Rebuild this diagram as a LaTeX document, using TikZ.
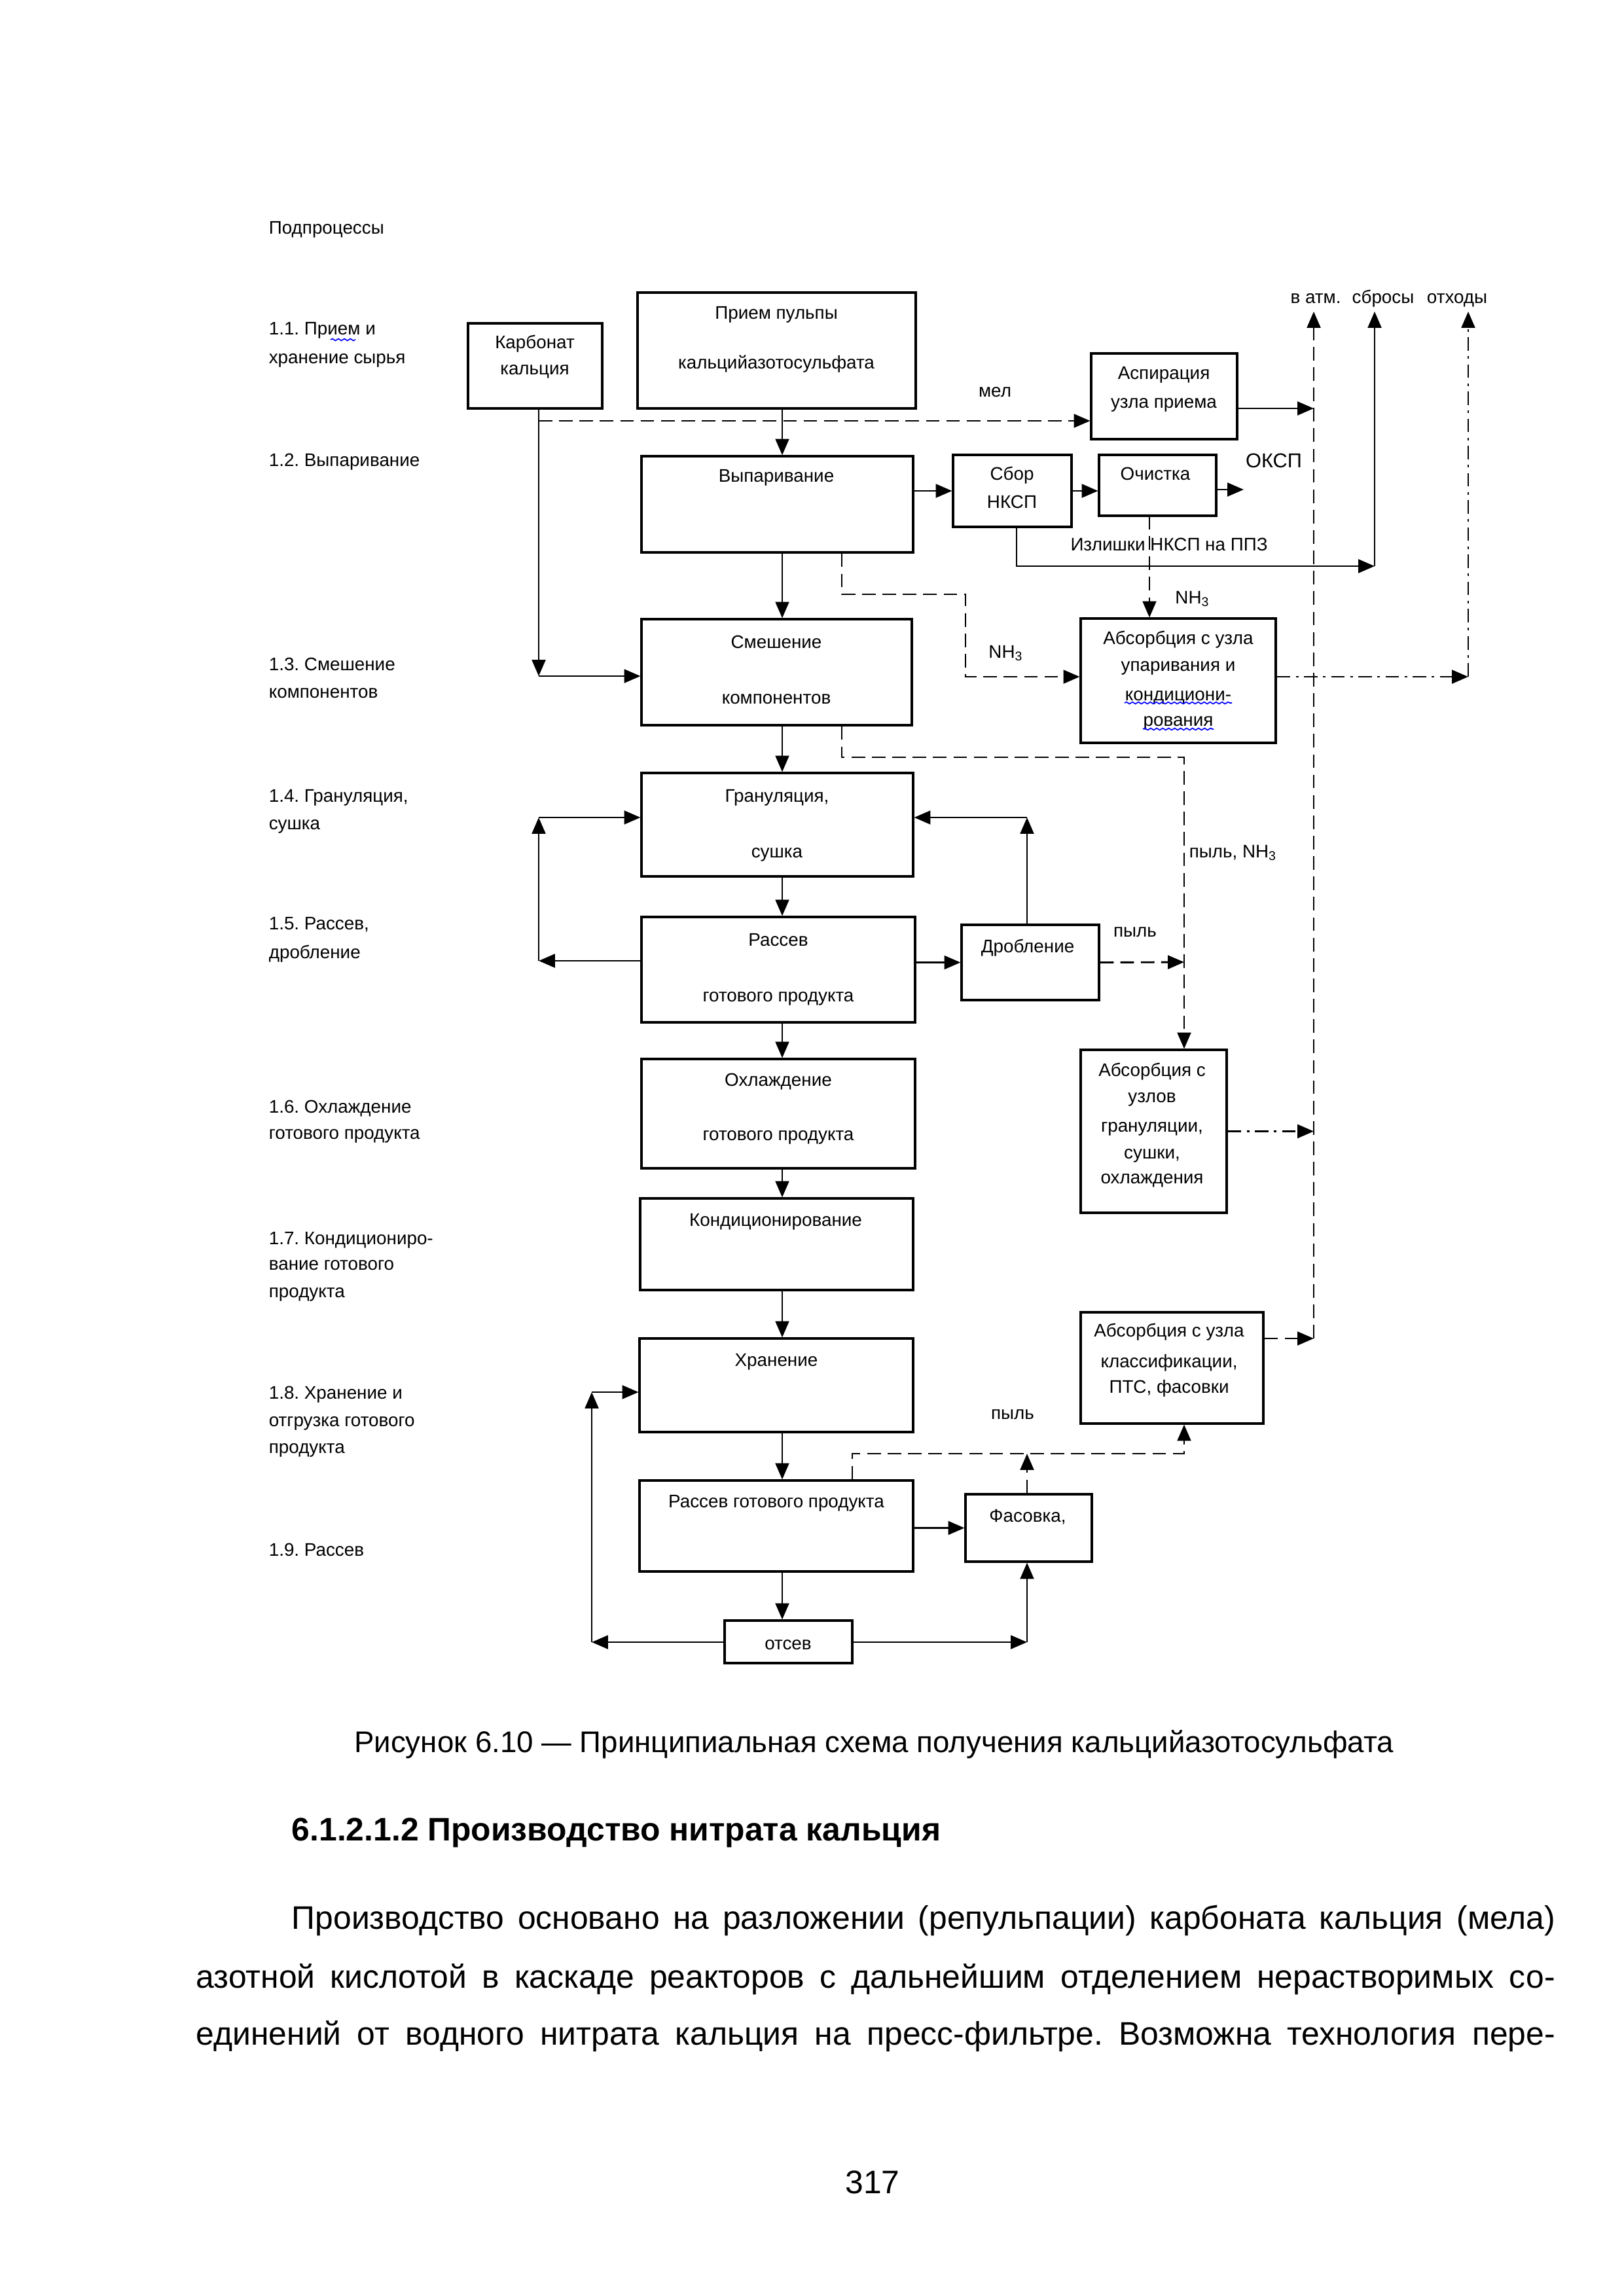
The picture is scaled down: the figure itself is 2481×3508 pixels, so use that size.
\documentclass[tikz,border=0pt]{standalone}
\usepackage{fontspec}
\setmainfont{Liberation Sans}
\usetikzlibrary{arrows.meta,fit,decorations.pathmorphing}
\frenchspacing

\tikzset{
	box/.style={draw, line width=0.75pt, inner sep=0pt},
	txt/.style={inner sep=0pt, anchor=base, yshift=-0.72mm, font=\fontsize{6.7}{8}\selectfont},
	lbl/.style={txt, anchor=base west},
	pfeil/.style={line width=0.7pt, -{Triangle[length=6pt,width=5pt]}},
	strich/.style={pfeil, dash pattern=on 5pt off 2.5pt},
	strichpunkt/.style={pfeil, dash pattern=on 5pt off 2pt on 1pt off 2pt},
	welle/.style={blue, line width=0.4pt, decorate, decoration={snake, amplitude=0.35pt, segment length=2.2pt}},
	seite/.style={inner sep=0pt, anchor=base west, yshift=-0.3mm, font=\fontsize{12}{14}\selectfont}
}

\begin{document}
\begin{tikzpicture}[x=0.084667mm, y=-0.084667mm]
	\useasboundingbox (0,0) rectangle (2481,3508);

	% Teilprozesse links
	\node[lbl] (tp) at (410,349) {Подпроцессы};
	\node[lbl] (tp11) at (410,503) {1.1. Прием и};
	\node[lbl] (tp11b) at (410,547) {хранение сырья};
	\draw[welle] (505,519) -- (543,519);
	\node[lbl] (tp12) at (410,704) {1.2. Выпаривание};
	\node[lbl] (tp13) at (410,1016) {1.3. Смешение};
	\node[lbl] (tp13b) at (410,1058) {компонентов};
	\node[lbl] (tp14) at (410,1217) {1.4. Грануляция,};
	\node[lbl] (tp14b) at (410,1259) {сушка};
	\node[lbl] (tp15) at (410,1412) {1.5. Рассев,};
	\node[lbl] (tp15b) at (410,1456) {дробление};
	\node[lbl] (tp16) at (410,1692) {1.6. Охлаждение};
	\node[lbl] (tp16b) at (410,1732) {готового продукта};
	\node[lbl] (tp17) at (410,1893) {1.7. Кондициониро-};
	\node[lbl] (tp17b) at (410,1932) {вание готового};
	\node[lbl] (tp17c) at (410,1974) {продукта};
	\node[lbl] (tp18) at (410,2129) {1.8. Хранение и};
	\node[lbl] (tp18b) at (410,2171) {отгрузка готового};
	\node[lbl] (tp18c) at (410,2212) {продукта};
	\node[lbl] (tp19) at (410,2369) {1.9. Рассев};

	% Kaesten
	\node[box, fit={(715,494) (920,624)}] (karb) {};
	\node[box, fit={(974,447) (1399,624)}] (priem) {};
	\node[box, fit={(1667,540) (1890,671)}] (aspir) {};
	\node[box, fit={(980,697) (1395,844)}] (vypar) {};
	\node[box, fit={(1456,695) (1637,805)}] (sbor) {};
	\node[box, fit={(1679,695) (1858,788)}] (ochist) {};
	\node[box, fit={(980,946) (1393,1108)}] (smesh) {};
	\node[box, fit={(1651,945) (1949,1135)}] (absup) {};
	\node[box, fit={(980,1181) (1395,1339)}] (gran) {};
	\node[box, fit={(980,1401) (1398,1562)}] (rassev) {};
	\node[box, fit={(1469,1413) (1679,1528)}] (drob) {};
	\node[box, fit={(1651,1604) (1874,1853)}] (absgr) {};
	\node[box, fit={(980,1618) (1398,1785)}] (ohl) {};
	\node[box, fit={(978,1831) (1395,1971)}] (kond) {};
	\node[box, fit={(1651,2005) (1930,2175)}] (abskl) {};
	\node[box, fit={(977,2045) (1395,2188)}] (hran) {};
	\node[box, fit={(977,2262) (1395,2401)}] (rassgp) {};
	\node[box, fit={(1475,2283) (1668,2386)}] (fas) {};
	\node[box, fit={(1107,2476) (1302,2541)}] (otsev) {};

	% Beschriftung der Kaesten
	\node[txt] at (817,524) {Карбонат};
	\node[txt] at (817,564) {кальция};
	\node[txt] at (1186,479) {Прием пульпы};
	\node[txt] at (1186,555) {кальцийазотосульфата};
	\node[txt] at (1778,571) {Аспирация};
	\node[txt] at (1778,615) {узла приема};
	\node[txt] at (1186,728) {Выпаривание};
	\node[txt] at (1546,725) {Сбор};
	\node[txt] at (1546,768) {НКСП};
	\node[txt] at (1765,725) {Очистка};
	\node[txt] at (1186,982) {Смешение};
	\node[txt] at (1186,1067) {компонентов};
	\node[txt] at (1800,976) {Абсорбция с узла};
	\node[txt] at (1800,1017) {упаривания и};
	\node[txt] at (1800,1062) {кондициони-};
	\node[txt] at (1800,1101) {рования};
	\draw[welle] (1718,1074) -- (1882,1074);
	\draw[welle] (1746,1114) -- (1854,1114);
	\node[txt] at (1187,1217) {Грануляция,};
	\node[txt] at (1187,1302) {сушка};
	\node[txt] at (1189,1437) {Рассев};
	\node[txt] at (1189,1522) {готового продукта};
	\node[txt] at (1570,1447) {Дробление};
	\node[txt] at (1760,1636) {Абсорбция с};
	\node[txt] at (1760,1676) {узлов};
	\node[txt] at (1760,1721) {грануляции,};
	\node[txt] at (1760,1762) {сушки,};
	\node[txt] at (1760,1800) {охлаждения};
	\node[txt] at (1189,1651) {Охлаждение};
	\node[txt] at (1189,1734) {готового продукта};
	\node[txt] at (1185,1865) {Кондиционирование};
	\node[txt] at (1786,2034) {Абсорбция с узла};
	\node[txt] at (1786,2081) {классификации,};
	\node[txt] at (1786,2120) {ПТС, фасовки};
	\node[txt] at (1186,2079) {Хранение};
	\node[txt] at (1186,2295) {Рассев готового продукта};
	\node[txt] at (1570,2317) {Фасовка,};
	\node[txt] at (1204,2512) {отсев};

	% Hilfspunkte
	\coordinate (mid) at (1195,0);
	\coordinate (k1) at (823,1033);
	\coordinate (mel) at (823,643);
	\coordinate (asp) at (2007,624);
	\coordinate (atm) at (2007,476);
	\coordinate (atmbot) at (2007,2045);
	\coordinate (sbr) at (2100,476);
	\coordinate (sbrbot) at (2100,865);
	\coordinate (oth) at (2243,476);
	\coordinate (othbot) at (2243,1034);
	\coordinate (sb) at (1553,865);
	\coordinate (okcp) at (1900,748);
	\coordinate (oc) at (1756,788);
	\coordinate (nh1) at (1286,908);
	\coordinate (nh2) at (1475,908);
	\coordinate (nh3) at (1475,1034);
	\coordinate (py1) at (1286,1157);
	\coordinate (py2) at (1809,1157);
	\coordinate (r1) at (823,1468);
	\coordinate (r2) at (823,1249);
	\coordinate (d1) at (1569,1249);
	\coordinate (dp) at (1809,1470);
	\coordinate (h1) at (904,2509);
	\coordinate (h2) at (904,2127);
	\coordinate (f1) at (1569,2509);
	\coordinate (p1) at (1302,2221);
	\coordinate (p2) at (1809,2221);

	% Hauptstrang
	\draw[pfeil] (priem.south -| mid) -- (vypar.north -| mid);
	\draw[pfeil] (vypar.south -| mid) -- (smesh.north -| mid);
	\draw[pfeil] (smesh.south -| mid) -- (gran.north -| mid);
	\draw[pfeil] (gran.south -| mid) -- (rassev.north -| mid);
	\draw[pfeil] (rassev.south -| mid) -- (ohl.north -| mid);
	\draw[pfeil] (ohl.south -| mid) -- (kond.north -| mid);
	\draw[pfeil] (kond.south -| mid) -- (hran.north -| mid);
	\draw[pfeil] (hran.south -| mid) -- (rassgp.north -| mid);
	\draw[pfeil] (rassgp.south -| mid) -- (otsev.north -| mid);

	% Carbonat
	\draw[pfeil] (karb.south -| k1) -- (k1);
	\draw[pfeil] (k1) -- (k1 -| smesh.west);
	\draw[strich] (mel) -- (mel -| aspir.west);
	\node[txt] at (1520,598) {мел};
	\draw[pfeil] (aspir.east |- asp) -- (asp);

	% Abluft, Abwasser, Abfall
	\draw[pfeil, dash pattern=on 5pt off 2.5pt] (atmbot) -- (atm);
	\draw[pfeil] (sbrbot) -- (sbr);
	\draw[strichpunkt] (othbot) -- (oth);
	\node[txt] at (2010,455) {в атм.};
	\node[txt] at (2113,455) {сбросы};
	\node[txt] at (2226,455) {отходы};

	% Eindampfung
	\draw[pfeil] (vypar.east |- sbor.west) -- (sbor.west);
	\draw[pfeil] (sbor.east) -- (sbor.east -| ochist.west);
	\draw[pfeil] (ochist.east |- okcp) -- (okcp);
	\node[txt, font=\fontsize{7.4}{8}\selectfont] at (1946,706) {ОКСП};
	\draw[pfeil] (sbor.south -| sb) -- (sb) -- (sbrbot);
	\node[txt] at (1786,833) {Излишки НКСП на ППЗ};
	\draw[strich] (oc) -- (oc |- absup.north);
	\node[txt] at (1822,914) {NH\textsubscript{3}};
	\draw[strich] (vypar.south -| nh1) -- (nh1) -- (nh2) -- (nh3) -- (nh3 -| absup.west);
	\node[txt] at (1537,997) {NH\textsubscript{3}};
	\draw[strichpunkt] (absup.east |- othbot) -- (othbot);

	% Granulierung
	\draw[strich] (smesh.south -| py1) -- (py1) -- (py2) -- (absgr.north -| py2);
	\node[lbl] at (1816,1302) {пыль, NH\textsubscript{3}};
	\draw[pfeil] (rassev.west |- r1) -- (r1);
	\draw[pfeil] (r1) -- (r2);
	\draw[pfeil] (r2) -- (r2 -| gran.west);
	\draw[pfeil] (rassev.east |- drob.west) -- (drob.west);
	\draw[pfeil] (drob.north -| d1) -- (d1);
	\draw[pfeil] (d1) -- (d1 -| gran.east);
	\draw[strich] (drob.east) -- (dp);
	\node[txt] at (1734,1423) {пыль};
	\draw[strichpunkt] (absgr.east) -- (absgr.east -| atm);

	% Lagerung und Absackung
	\draw[pfeil] (otsev.west |- h1) -- (h1);
	\draw[pfeil] (h1) -- (h2);
	\draw[pfeil] (h2) -- (h2 -| hran.west);
	\draw[pfeil] (otsev.east |- f1) -- (f1);
	\draw[pfeil] (f1) -- (fas.south -| f1);
	\draw[pfeil] (rassgp.east |- fas.west) -- (fas.west);
	\draw[strich] (rassgp.north -| p1) -- (p1) -- (p2) -- (abskl.south -| p2);
	\draw[strich] (fas.north -| f1) -- (f1 |- p1);
	\node[txt] at (1547,2160) {пыль};
	\draw[strich] (abskl.east |- atmbot) -- (atmbot);

	% Text der Seite
	\node[seite, anchor=base, font=\fontsize{11}{13}\selectfont] (cap) at (1335,2674) {Рисунок 6.10 — Принципиальная схема получения кальцийазотосульфата};
	\node[seite, font=\fontsize{12}{14}\selectfont\bfseries] (head) at (445,2809) {6.1.2.1.2 Производство нитрата кальция};
	\node[seite] (z1) at (445,2944) {\makebox[163.41mm][s]{Производство основано на разложении (репульпации) карбоната кальция (мела)}};
	\node[seite] (z2) at (299,3034) {\makebox[175.77mm][s]{азотной кислотой в каскаде реакторов с дальнейшим отделением нерастворимых со-}};
	\node[seite] (z3) at (299,3121) {\makebox[175.77mm][s]{единений от водного нитрата кальция на пресс-фильтре. Возможна технология пере-}};
	\node[seite, anchor=base] (pg) at (1333,3348) {317};
\end{tikzpicture}
\end{document}
